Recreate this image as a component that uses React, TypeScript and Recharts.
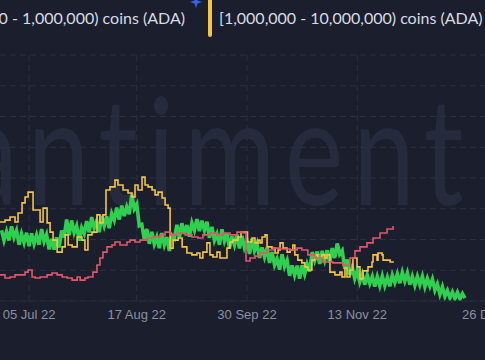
import { LineChart, Line, XAxis, YAxis, CartesianGrid, ReferenceLine } from "recharts";

const WIDTH = 485;
const HEIGHT = 360;

const seriesNames = [
  "[100,000 - 1,000,000) coins (ADA)",
  "[1,000,000 - 10,000,000) coins (ADA)",
  "[10,000,000 - 100,000,000) coins (ADA)",
];
const seriesColors = ["#2fd04f", "#f6c445", "#e5566b"];

// x values are days counted from 05 Jul 2022
const tickDays = [0, 43, 87, 131, 174];
const tickLabels = ["05 Jul 22", "17 Aug 22", "30 Sep 22", "13 Nov 22", "26 Dec 22"];
const gridDays = [0, 43, 87, 131];
const yGridValues = [0, 10, 20, 30, 40, 50, 60, 70, 80];

// green: one value per day, starting 24 Jun
const greenStartDay = -11;
const greenValues = [
  23.0, 19.7, 22.6, 19.7, 24.3, 20.7, 22.9, 18.3, 21.8, 19.0, 22.2, 17.8, 22.0, 18.6, 21.4, 18.3,
  23.4, 19.4, 21.6, 16.8, 20.2, 16.7, 20.7, 17.4, 22.9, 20.7, 26.5, 21.4, 26.2, 22.2, 24.4, 19.6,
  23.8, 21.9, 26.0, 22.3, 27.3, 23.7, 26.0, 22.4, 27.7, 24.5, 27.5, 23.7, 28.4, 26.3, 30.4, 26.5,
  31.0, 27.6, 30.6, 28.2, 34.6, 30.0, 31.5, 24.5, 24.9, 20.1, 23.4, 18.6, 22.5, 18.5, 20.8, 17.2,
  22.1, 18.3, 20.8, 16.3, 21.4, 20.4, 24.8, 20.7, 25.3, 21.8, 24.7, 20.9, 25.4, 23.0, 26.6, 22.7,
  26.1, 23.0, 25.8, 20.5, 24.1, 19.7, 21.8, 18.3, 23.3, 19.5, 21.9, 17.2, 21.0, 18.2, 21.6, 17.1,
  21.2, 17.3, 19.4, 15.3, 20.2, 16.4, 18.7, 14.0, 17.4, 14.3, 17.3, 12.4, 15.9, 11.7, 13.7, 10.2,
  15.2, 11.2, 13.2, 8.2, 11.6, 8.4, 11.5, 7.3, 11.6, 8.7, 12.0, 9.6, 15.9, 13.2, 16.1, 12.1,
  16.3, 13.3, 16.5, 12.5, 17.2, 14.0, 18.7, 15.2, 16.4, 10.5, 13.5, 8.5, 10.9, 7.3, 9.9, 6.2,
  8.7, 5.3, 8.4, 5.7, 8.0, 4.7, 7.9, 5.0, 8.1, 5.0, 7.7, 4.8, 8.4, 6.0, 8.8, 5.8,
  9.3, 6.5, 9.1, 5.3, 8.0, 5.1, 8.0, 5.3, 8.0, 4.6, 7.3, 4.8, 7.1, 3.5, 5.5, 2.2,
  4.6, 1.5, 3.4, 1.0, 2.9, 0.8, 2.8, 0.7, 2.4, 0.9,
];

// [day, value] where each step starts
const yellowSteps: [number, number][] = [
  [-11.6, 25.7], [-9.6, 26.3], [-7.6, 27.3], [-5.6, 25.7], [-4.4, 28.6], [-2.8, 31.9], [-1.6, 33.8],
  [-0.4, 35.4], [1.6, 29.6], [4.4, 25.7], [5.6, 30.2], [7.2, 25.4], [8.4, 22.4], [9.6, 19.8],
  [11.2, 15.9], [13.2, 17.6], [14.4, 21.5], [15.6, 18.2], [17.2, 17.6], [19.2, 20.8], [21.1, 19.8],
  [22.3, 16.6], [23.5, 21.5], [25.1, 22.4], [27.1, 28.0], [28.3, 25.4], [29.5, 28.0], [30.7, 36.1],
  [32.3, 37.1], [34.3, 39.3], [35.5, 37.7], [37.5, 36.1], [39.5, 35.1], [41.1, 33.8], [42.3, 37.7],
  [43.5, 36.1], [45.1, 40.3], [46.3, 37.7], [47.5, 37.1], [49.1, 36.1], [50.3, 34.5], [51.5, 35.4],
  [53.1, 33.5], [54.3, 31.2], [55.5, 30.2], [56.3, 17.2], [57.5, 19.8], [59.5, 20.5], [61.1, 17.6],
  [63.0, 15.6], [65.0, 15.0], [67.0, 15.6], [68.2, 14.0], [69.4, 15.9], [71.0, 18.9], [72.2, 15.0],
  [73.4, 14.3], [75.0, 15.9], [76.2, 14.0], [79.0, 17.2], [80.2, 19.2], [81.4, 19.8], [83.4, 20.8],
  [84.6, 22.4], [87.2, 19.2], [89.0, 20.5], [90.2, 18.9], [91.4, 19.8], [92.2, 18.9], [93.0, 20.8],
  [94.2, 21.5], [95.0, 17.6], [97.0, 17.2], [98.2, 15.6], [99.4, 16.6], [100.2, 18.9], [101.4, 17.2],
  [103.0, 15.9], [104.2, 16.6], [105.3, 18.2], [106.1, 15.0], [107.3, 13.3], [108.9, 12.4],
  [110.1, 11.1], [111.3, 10.1], [112.9, 13.3], [114.1, 15.0], [115.3, 14.0], [116.9, 15.0],
  [118.1, 14.0], [118.9, 15.0], [120.1, 9.4], [122.1, 8.5], [124.1, 9.4], [124.9, 7.8], [126.1, 10.7],
  [126.9, 7.8], [128.1, 10.1], [129.3, 14.0], [130.9, 11.1], [132.1, 7.2], [133.3, 9.8], [135.3, 11.1],
  [136.9, 12.7], [137.3, 15.0], [138.9, 13.3], [139.3, 15.6], [140.9, 15.0], [141.3, 13.3],
  [144.1, 12.7], [145.3, 12.4],
];

const redSteps: [number, number][] = [
  [-11.6, 8.5], [-9.6, 7.5], [-7.6, 7.8], [-5.6, 8.5], [-1.6, 9.4], [-0.4, 10.1], [1.2, 7.8],
  [2.4, 7.5], [4.4, 7.8], [7.2, 8.5], [9.2, 9.1], [11.2, 8.5], [13.2, 7.8], [15.2, 7.5], [17.2, 6.8],
  [19.2, 7.8], [20.4, 6.8], [22.3, 7.5], [23.5, 7.8], [25.5, 9.4], [27.1, 11.7], [28.3, 14.0],
  [29.5, 15.9], [31.1, 17.6], [33.1, 18.2], [34.3, 19.2], [36.3, 18.2], [39.1, 19.2], [40.3, 19.8],
  [42.3, 19.2], [44.3, 19.8], [47.1, 20.5], [49.5, 20.8], [52.3, 21.5], [54.3, 22.4], [56.3, 21.5],
  [59.1, 22.1], [62.3, 21.5], [65.0, 20.8], [67.4, 20.5], [69.4, 21.5], [72.2, 22.1], [75.0, 21.5],
  [77.4, 22.1], [80.2, 21.5], [83.0, 22.4], [85.4, 22.1], [86.6, 13.0], [88.2, 14.0], [90.2, 14.6],
  [92.2, 15.6], [95.0, 16.6], [97.4, 17.2], [100.2, 16.9], [104.2, 16.6], [107.0, 17.2],
  [108.9, 16.6], [111.3, 15.0], [114.1, 14.0], [116.9, 12.7], [121.3, 12.4], [125.3, 11.7],
  [128.1, 14.0], [130.1, 16.3], [132.1, 17.6], [134.9, 18.9], [137.3, 20.5], [140.1, 22.1],
  [142.9, 23.4], [145.3, 24.4],
];

const greenData = greenValues.map((v, i) => ({ day: greenStartDay + i, v }));
const yellowData = yellowSteps.map(([day, v]) => ({ day, v }));
const redData = redSteps.map(([day, v]) => ({ day, v }));

const BG = "#1b1e2c";
const GRID = "#2b3044";

function DateTick({ x, y, payload }: any) {
  const i = tickDays.indexOf(payload.value);
  const last = i === tickDays.length - 1;
  return (
    <text
      x={last ? x - 3 : x}
      y={y}
      dy="0.71em"
      textAnchor={last ? "start" : "middle"}
      fill="#8b90a1"
      fontSize={13}
      fontFamily="'Liberation Sans', Arial, sans-serif"
    >
      {tickLabels[i]}
    </text>
  );
}

function LegendItem({ name, color }: { name: string; color: string }) {
  return (
    <div style={{ display: "flex", alignItems: "flex-start", whiteSpace: "nowrap" }}>
      <div style={{ width: 4, height: 44, marginTop: -7, borderRadius: 2, background: color }} />
      <span style={{ marginLeft: 7, marginTop: 8 }}>{name}</span>
    </div>
  );
}

export default function App() {
  const legendFont = { fontFamily: "Lato, 'Open Sans', sans-serif", fontSize: 16, color: "#d8dbe5" };
  return (
    <div
      style={{
        position: "absolute",
        left: 0,
        top: 0,
        width: WIDTH,
        height: HEIGHT,
        background: BG,
        overflow: "hidden",
      }}
    >
      {/* watermark */}
      <svg width={WIDTH} height={HEIGHT} style={{ position: "absolute", left: 0, top: 0 }}>
        <text
          transform="translate(-95,205) scale(0.74,1)"
          fill="#252a3c"
          fontSize={150}
          fontWeight={400}
          fontFamily="Lato, sans-serif"
          letterSpacing={13}
        >
          santiment
        </text>
      </svg>

      <LineChart width={WIDTH} height={HEIGHT} margin={{ top: 55, right: 0, bottom: 29, left: 0 }}>
        <CartesianGrid vertical={false} stroke={GRID} strokeDasharray="6 4" />
        {gridDays.map((d) => (
          <ReferenceLine key={d} x={d} stroke={GRID} strokeDasharray="6 4" />
        ))}
        <XAxis
          dataKey="day"
          type="number"
          domain={[-11.6, 182]}
          allowDataOverflow
          ticks={tickDays}
          interval={0}
          tick={<DateTick />}
          tickLine={false}
          tickSize={6}
          tickMargin={3}
          axisLine={{ stroke: "#272b3c" }}
          height={30}
        />
        <YAxis hide width={0} domain={[0, 80]} ticks={yGridValues} allowDataOverflow />
        <Line
          data={greenData}
          dataKey="v"
          type="linear"
          stroke={seriesColors[0]}
          strokeWidth={3.6}
          strokeLinejoin="miter"
          dot={false}
          isAnimationActive={false}
        />
        <Line
          data={yellowData}
          dataKey="v"
          type="stepAfter"
          stroke={seriesColors[1]}
          strokeWidth={1.6}
          dot={false}
          isAnimationActive={false}
        />
        <Line
          data={redData}
          dataKey="v"
          type="stepAfter"
          stroke={seriesColors[2]}
          strokeWidth={1.6}
          dot={false}
          isAnimationActive={false}
        />
      </LineChart>

      {/* legend */}
      <div style={{ ...legendFont, position: "absolute", top: 0, right: WIDTH - 185 }}>
        <LegendItem name={seriesNames[0]} color={seriesColors[0]} />
      </div>
      <svg width={16} height={12} style={{ position: "absolute", left: 188, top: -4 }}>
        <path d="M8 0 L9.5 4.5 L14 6 L9.5 7.5 L8 12 L6.5 7.5 L2 6 L6.5 4.5 Z" fill="#3563e9" />
      </svg>
      <div style={{ ...legendFont, position: "absolute", top: 0, left: 208, display: "flex", gap: 24 }}>
        <LegendItem name={seriesNames[1]} color={seriesColors[1]} />
        <LegendItem name={seriesNames[2]} color={seriesColors[2]} />
      </div>
    </div>
  );
}
